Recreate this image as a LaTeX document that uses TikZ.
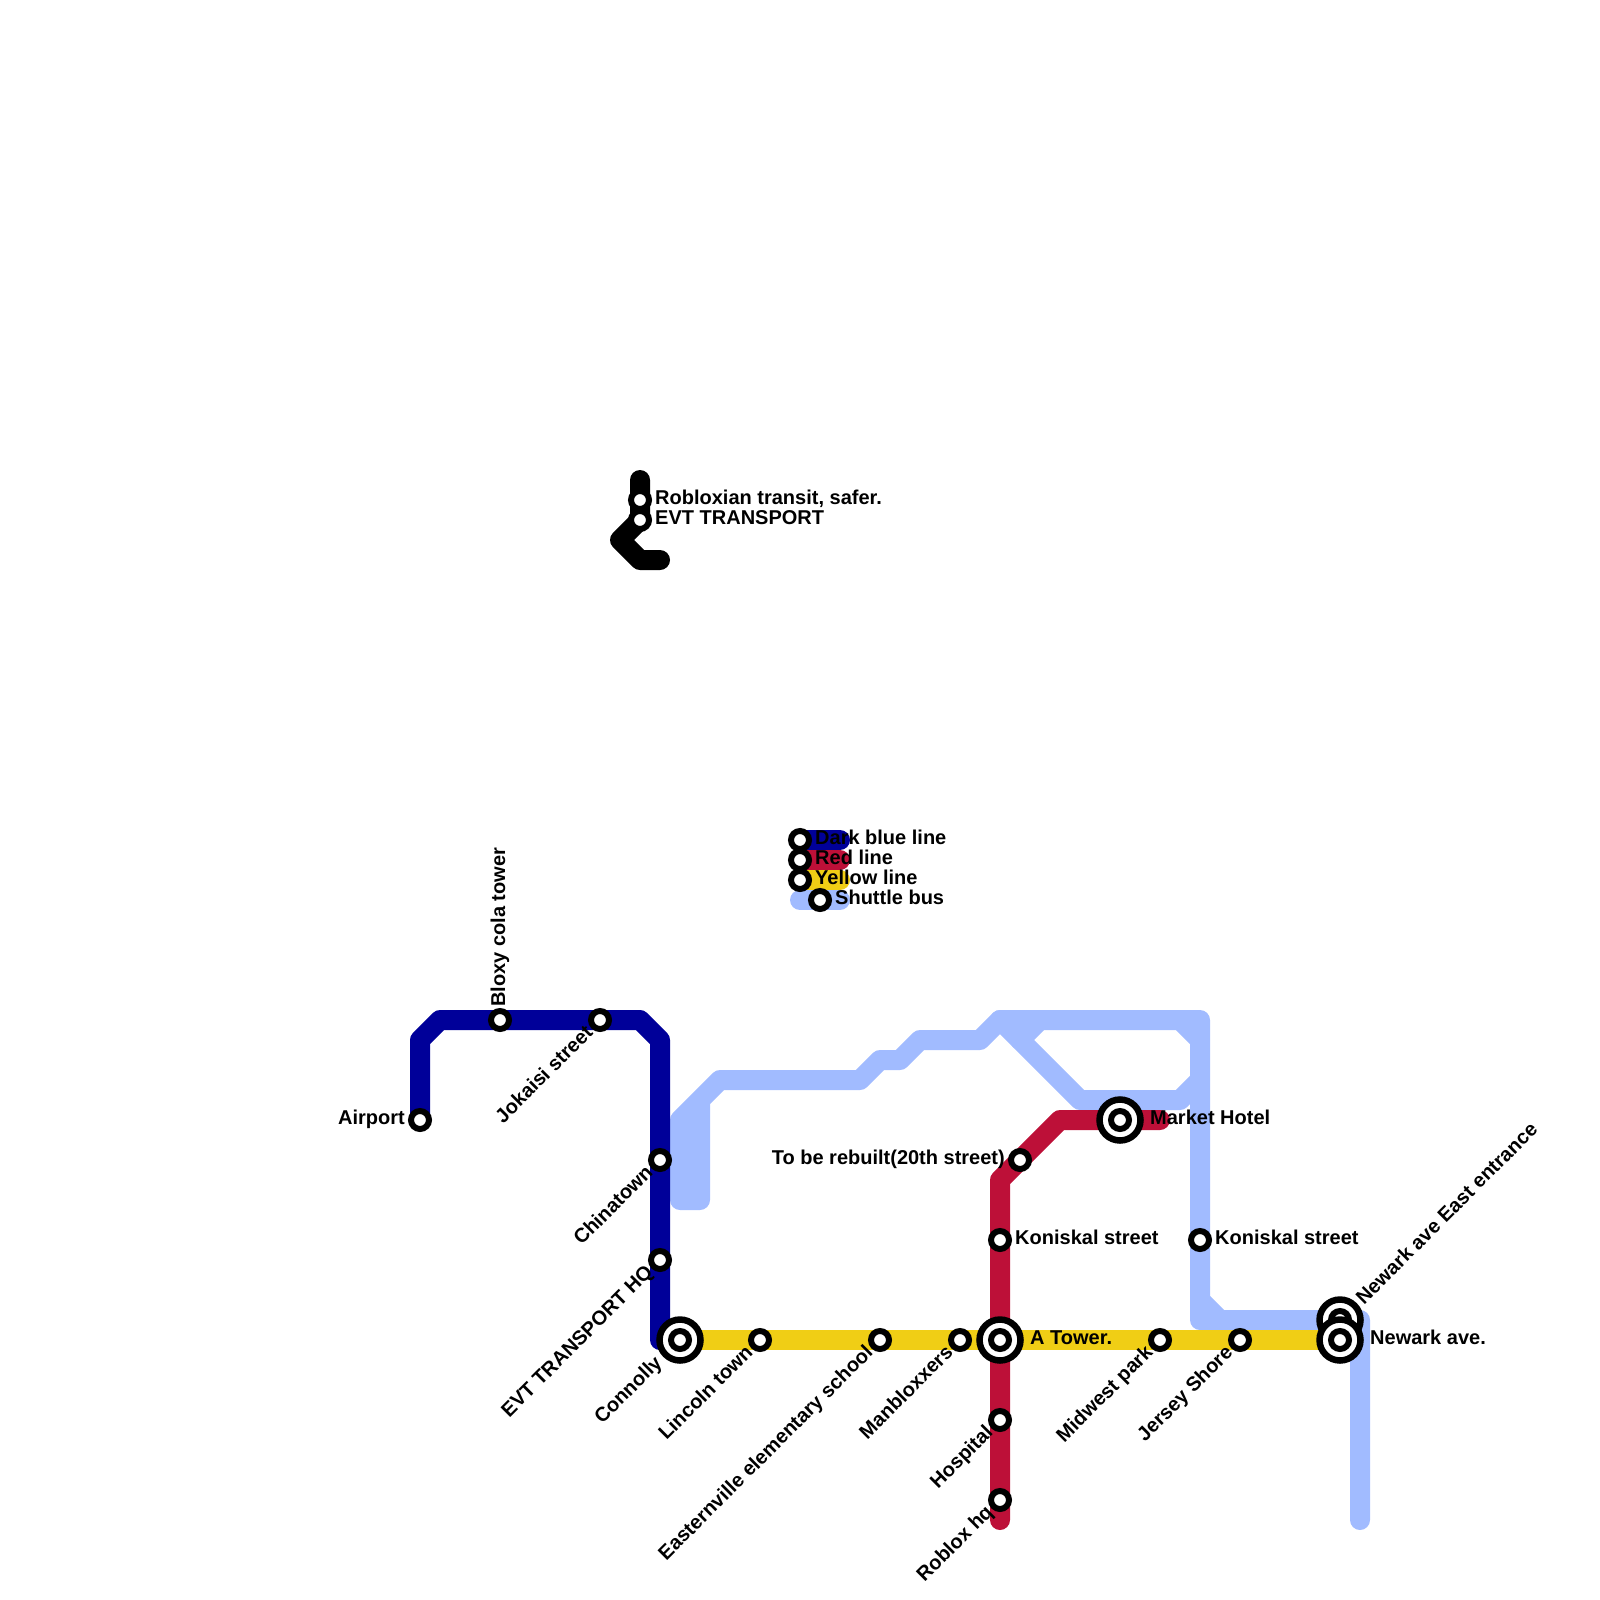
\documentclass[tikz,border=0pt]{standalone}
\usepackage{fontspec}
\setmainfont{Liberation Sans}
\usepackage{tikz}
\usetikzlibrary{backgrounds, positioning}
\definecolor{navyline}{HTML}{000099}
\definecolor{redline}{HTML}{BD1038}
\definecolor{yellowline}{HTML}{F0CE15}
\definecolor{shuttleline}{HTML}{A1BBFF}

\begin{document}
\begin{tikzpicture}[
                                        x=1pt,
                                        y=-1pt,
                                        route/.style={line width=20pt, line cap=round, line join=round},
                                        stop/.style={circle, draw, fill=white, line width=6pt, minimum size=18pt, inner sep=0pt},
                                        hub/.style={circle, draw, fill=white, line width=6.5pt, minimum size=41pt, inner sep=0pt},
                                        lbl/.style={font=\fontsize{20}{20}\selectfont\bfseries, inner sep=0pt},
                                        tilted/.style={lbl, anchor=base east, rotate=45}
                                ]
                                \useasboundingbox (0,0) rectangle (1600,1600);

                                \node [stop] (transit) at (640,500) {};
                                \node [stop] (evt) at (640,520) {};
                                \coordinate (k1) at (640,480);
                                \coordinate (k2) at (620,540);
                                \coordinate (k3) at (640,560);
                                \coordinate (k4) at (660,560);

                                \node [stop] (keydark) at (800,840) {};
                                \node [stop] (keyred) at (800,860) {};
                                \node [stop] (keyyellow) at (800,880) {};
                                \node [stop] (keybus) at (820,900) {};
                                \coordinate (keydarkend) at (840,840);
                                \coordinate (keyredend) at (840,860);
                                \coordinate (keyyellowend) at (840,880);
                                \coordinate (keybusa) at (800,900);
                                \coordinate (keybusb) at (840,900);

                                \node [stop] (airport) at (420,1120) {};
                                \node [stop] (bloxy) at (500,1020) {};
                                \node [stop] (jokaisi) at (600,1020) {};
                                \node [stop] (chinatown) at (660,1160) {};
                                \node [stop] (evthq) at (660,1260) {};
                                \coordinate (d1) at (420,1040);
                                \coordinate (d2) at (440,1020);
                                \coordinate (d3) at (640,1020);
                                \coordinate (d4) at (660,1040);
                                \coordinate (d5) at (660,1340);

                                \node [stop] (lincoln) at (760,1340) {};
                                \node [stop] (eastern) at (880,1340) {};
                                \node [stop] (manbloxxers) at (960,1340) {};
                                \node [stop] (midwest) at (1160,1340) {};
                                \node [stop] (jersey) at (1240,1340) {};
                                \node [stop] (koniskalred) at (1000,1240) {};
                                \node [stop] (rebuilt) at (1020,1160) {};
                                \node [stop] (hospital) at (1000,1420) {};
                                \node [stop] (robloxhq) at (1000,1500) {};
                                \node [stop] (koniskalbus) at (1200,1240) {};
                                \coordinate (r1) at (1000,1520);
                                \coordinate (r2) at (1000,1180);
                                \coordinate (r3) at (1060,1120);
                                \coordinate (r4) at (1160,1120);

                                \node [hub] (connolly) at (680,1340) {};
                                \node [stop] (connollyin) at (connolly.center) {};
                                \node [hub] (atower) at (1000,1340) {};
                                \node [stop] (atowerin) at (atower.center) {};
                                \node [hub] (market) at (1120,1120) {};
                                \node [stop] (marketin) at (market.center) {};
                                \node [hub] (newarkeast) at (1340,1320) {};
                                \node [stop] (newarkeastin) at (newarkeast.center) {};
                                \node [hub] (newark) at (1340,1340) {};
                                \node [stop] (newarkin) at (newark.center) {};

                                \coordinate (s1) at (700,1100);
                                \coordinate (s2) at (680,1120);
                                \coordinate (s3) at (680,1200);
                                \coordinate (s4) at (700,1200);
                                \coordinate (s5) at (720,1080);
                                \coordinate (s6) at (860,1080);
                                \coordinate (s7) at (880,1060);
                                \coordinate (s8) at (900,1060);
                                \coordinate (s9) at (920,1040);
                                \coordinate (s10) at (980,1040);
                                \coordinate (s11) at (1000,1020);
                                \coordinate (s12) at (1200,1020);
                                \coordinate (s13) at (1200,1320);
                                \coordinate (s14) at (1360,1320);
                                \coordinate (s15) at (1360,1520);
                                \coordinate (s16) at (1080,1100);
                                \coordinate (s17) at (1180,1100);
                                \coordinate (s18) at (1200,1080);
                                \coordinate (s19) at (1180,1020);
                                \coordinate (s20) at (1200,1040);
                                \coordinate (s21) at (1020,1040);
                                \coordinate (s22) at (1040,1020);
                                \coordinate (s23) at (1200,1300);
                                \coordinate (s24) at (1220,1320);

                                \begin{pgfonlayer}{background}
                                        \draw [route, shuttleline] (s1) -- (s2) -- (s3) -- (s4) -- (s1) -- (s5) -- (s6) -- (s7) -- (s8) -- (s9) -- (s10) -- (s11) -- (s12) -- (s13) -- (s14) -- (s15);
                                        \draw [route, shuttleline] (s11) -- (s16) -- (s17) -- (s18);
                                        \draw [route, shuttleline] (s19) -- (s20);
                                        \draw [route, shuttleline] (s21) -- (s22);
                                        \draw [route, shuttleline] (s23) -- (s24);
                                        \draw [route, shuttleline] (keybusa) -- (keybusb);
                                        \draw [route, navyline] (airport.center) -- (d1) -- (d2) -- (bloxy.center) -- (jokaisi.center) -- (d3) -- (d4) -- (chinatown.center) -- (evthq.center) -- (d5) -- (connolly.center);
                                        \draw [route, navyline] (keydark.center) -- (keydarkend);
                                        \draw [route, redline] (r1) -- (robloxhq.center) -- (hospital.center) -- (atower.center) -- (koniskalred.center) -- (r2) -- (rebuilt.center) -- (r3) -- (market.center) -- (r4);
                                        \draw [route, redline] (keyred.center) -- (keyredend);
                                        \draw [route, yellowline] (connolly.center) -- (lincoln.center) -- (eastern.center) -- (manbloxxers.center) -- (atower.center) -- (midwest.center) -- (jersey.center) -- (newark.center);
                                        \draw [route, yellowline] (keyyellow.center) -- (keyyellowend);
                                        \draw [route, black] (k1) -- (transit.center) -- (evt.center) -- (k2) -- (k3) -- (k4);
                                \end{pgfonlayer}

                                \node [lbl, anchor=base west] (transitlbl) at (655,504.7) {Robloxian transit, safer.};
                                \node [lbl, anchor=base west] (evtlbl) at (655,524.7) {EVT TRANSPORT};
                                \node [lbl, anchor=base west] (keydarklbl) at (815,844.7) {Dark blue line};
                                \node [lbl, anchor=base west] (keyredlbl) at (815,864.7) {Red line};
                                \node [lbl, anchor=base west] (keyyellowlbl) at (815,884.7) {Yellow line};
                                \node [lbl, anchor=base west] (keybuslbl) at (835,904.7) {Shuttle bus};
                                \node [lbl, anchor=base east] (airportlbl) at (405,1124.7) {Airport};
                                \node [lbl, anchor=base west, rotate=90] (bloxylbl) at (505,1007) {Bloxy cola tower};
                                \node [tilted] (jokaisilbl) at (594,1033.5) {Jokaisi street};
                                \node [tilted] (chinatownlbl) at (654,1173.5) {Chinatown};
                                \node [tilted] (evthqlbl) at (654,1273.5) {EVT TRANSPORT HQ};
                                \node [tilted] (connollylbl) at (663,1364) {Connolly};
                                \node [tilted] (lincolnlbl) at (754,1353.5) {Lincoln town};
                                \node [tilted] (easternlbl) at (874,1353.5) {Easternville elementary school};
                                \node [tilted] (manbloxxerslbl) at (954,1353.5) {Manbloxxers};
                                \node [tilted] (midwestlbl) at (1154,1353.5) {Midwest park};
                                \node [tilted] (jerseylbl) at (1234,1353.5) {Jersey Shore};
                                \node [tilted] (hospitallbl) at (994,1433.5) {Hospital};
                                \node [tilted] (robloxhqlbl) at (994,1513.5) {Roblox hq};
                                \node [lbl, anchor=base east] (rebuiltlbl) at (1005,1164.7) {To be rebuilt(20th street)};
                                \node [lbl, anchor=base west] (koniskalredlbl) at (1015,1244.7) {Koniskal street};
                                \node [lbl, anchor=base west] (koniskalbuslbl) at (1215,1244.7) {Koniskal street};
                                \node [lbl, anchor=base west] (marketlbl) at (1150,1124.7) {Market Hotel};
                                \node [lbl, anchor=base west] (atowerlbl) at (1030,1344.7) {A Tower.};
                                \node [lbl, anchor=base west] (newarklbl) at (1370,1344.7) {Newark ave.};
                                \node [lbl, anchor=base west, rotate=45] (newarkeastlbl) at (1364,1305.5) {Newark ave East entrance};
                        \end{tikzpicture}
\end{document}
